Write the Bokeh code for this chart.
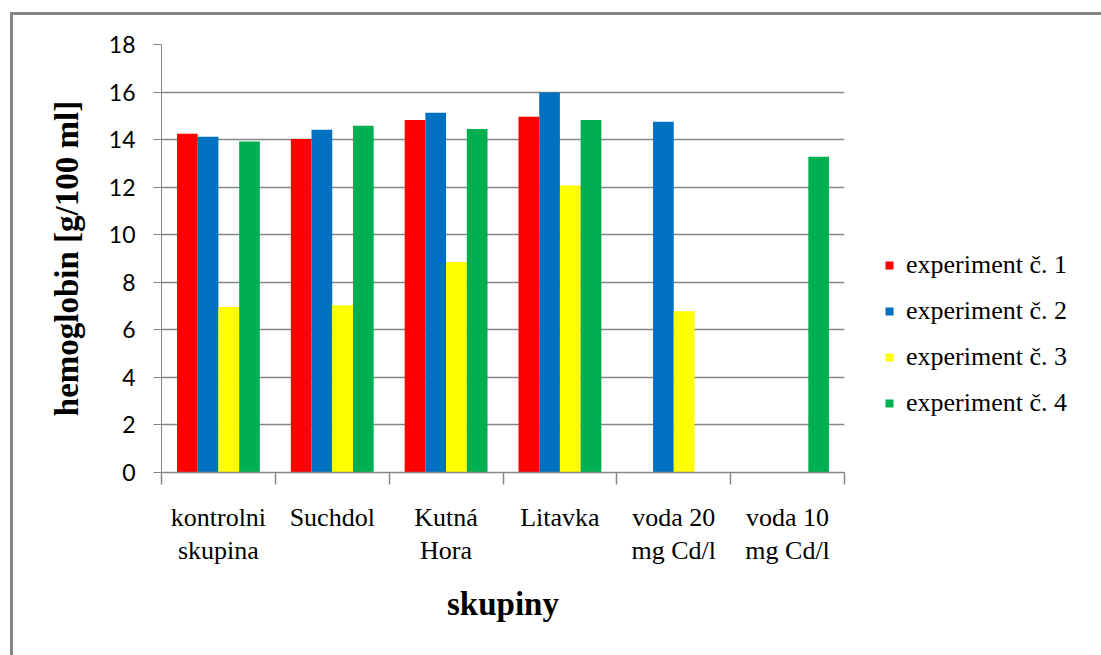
import numpy as np
from bokeh.plotting import figure
from bokeh.models import (ColumnDataSource, Range1d, FixedTicker, Legend,
                          LegendItem, InlineStyleSheet)
from bokeh.embed import file_html
from bokeh.resources import INLINE

# hemoglobin per group and experiment (g/100 ml); NaN = not measured
groups = ["kontrolni\nskupina", "Suchdol", "Kutná\nHora", "Litavka",
          "voda 20\nmg Cd/l", "voda 10\nmg Cd/l"]
series = ["experiment č. 1", "experiment č. 2", "experiment č. 3", "experiment č. 4"]
nan = float("nan")
exp1 = [14.25, 14.03, 14.83, 14.96, nan, nan]
exp2 = [14.12, 14.41, 15.13, 15.98, 14.75, nan]
exp3 = [6.96, 7.03, 8.85, 12.07, 6.78, nan]
exp4 = [13.92, 14.58, 14.45, 14.83, nan, 13.28]
colors = ["#FF0000", "#0070C0", "#FFFF00", "#00B050"]
y_ticks = [0, 2, 4, 6, 8, 10, 12, 14, 16, 18]

SERIF = "Liberation Serif"
GRID = "#868686"

p = figure(frame_width=683, frame_height=428, output_backend="svg", toolbar_location=None,
           x_range=Range1d(0.5, len(groups) + 0.5), y_range=Range1d(0, 18),
           min_border_left=161, min_border_right=257,
           min_border_top=44, min_border_bottom=183)
p.outline_line_color = None
p.background_fill_color = "white"
p.border_fill_color = "white"

# outer chart-area border (left and top edges visible)
p.stylesheets = [InlineStyleSheet(css="""
:host { position: relative; }
:host::after {
  content: ''; position: absolute; left: 10px; top: 12px; right: 0; bottom: 0;
  border-left: 3px solid #868686; border-top: 3px solid #868686;
  pointer-events: none;
}
""")]

centers = np.arange(1, len(groups) + 1)
bar_w = 0.182
offsets = [-1.5 * bar_w, -0.5 * bar_w, 0.5 * bar_w, 1.5 * bar_w]
renderers = []
for vals, col, off in zip([exp1, exp2, exp3, exp4], colors, offsets):
    src = ColumnDataSource(dict(x=centers + off, top=np.array(vals, dtype=float)))
    r = p.vbar(x="x", top="top", bottom=0, width=bar_w, source=src,
               fill_color=col, line_color=None)
    renderers.append(r)

# y axis
yax = p.yaxis[0]
yax.ticker = FixedTicker(ticks=y_ticks)
yax.axis_line_color = GRID
yax.axis_line_width = 1
yax.major_tick_line_color = GRID
yax.major_tick_in = 0
yax.major_tick_out = 8
yax.minor_tick_line_color = None
yax.major_label_text_font = "Lato"
yax.major_label_text_font_size = "23px"
yax.major_label_text_color = "#000000"
yax.major_label_standoff = 18
yax.axis_label = "hemoglobin [g/100 ml]"
yax.axis_label_text_font = SERIF
yax.axis_label_text_font_style = "bold"
yax.axis_label_text_font_size = "33px"
yax.axis_label_text_color = "#000000"
yax.axis_label_standoff = 21

# x axis: labels at group centres, tick marks on group boundaries
xax = p.xaxis[0]
xax.ticker = FixedTicker(ticks=list(centers),
                         minor_ticks=[c + 0.5 for c in range(len(groups) + 1)])
xax.major_label_overrides = {int(c): g for c, g in zip(centers, groups)}
xax.axis_line_color = GRID
xax.axis_line_width = 1.5
xax.major_tick_line_color = None
xax.major_tick_in = 0
xax.major_tick_out = 0
xax.minor_tick_line_color = GRID
xax.minor_tick_line_width = 1.5
xax.minor_tick_in = 0
xax.minor_tick_out = 12
xax.major_label_text_font = SERIF
xax.major_label_text_font_size = "26px"
xax.major_label_text_color = "#000000"
xax.major_label_text_line_height = 1.15
xax.major_label_standoff = 18
xax.axis_label = "skupiny"
xax.axis_label_text_font = SERIF
xax.axis_label_text_font_style = "bold"
xax.axis_label_text_font_size = "33px"
xax.axis_label_text_color = "#000000"
xax.axis_label_standoff = 18

p.xgrid.grid_line_color = None
p.ygrid.grid_line_color = GRID
p.ygrid.grid_line_width = 1.5

# legend in the right-hand panel, placed by offset within that panel
legend = Legend(items=[LegendItem(label=s, renderers=[r]) for s, r in zip(series, renderers)],
                location=(40, 54), padding=0, margin=0, spacing=16,
                glyph_width=10, glyph_height=10, label_height=30, label_standoff=12,
                label_text_font=SERIF, label_text_font_size="26px",
                label_text_color="#000000",
                border_line_color=None, background_fill_alpha=0)
p.add_layout(legend, "right")

open("out.html", "w").write(file_html(p, INLINE))
